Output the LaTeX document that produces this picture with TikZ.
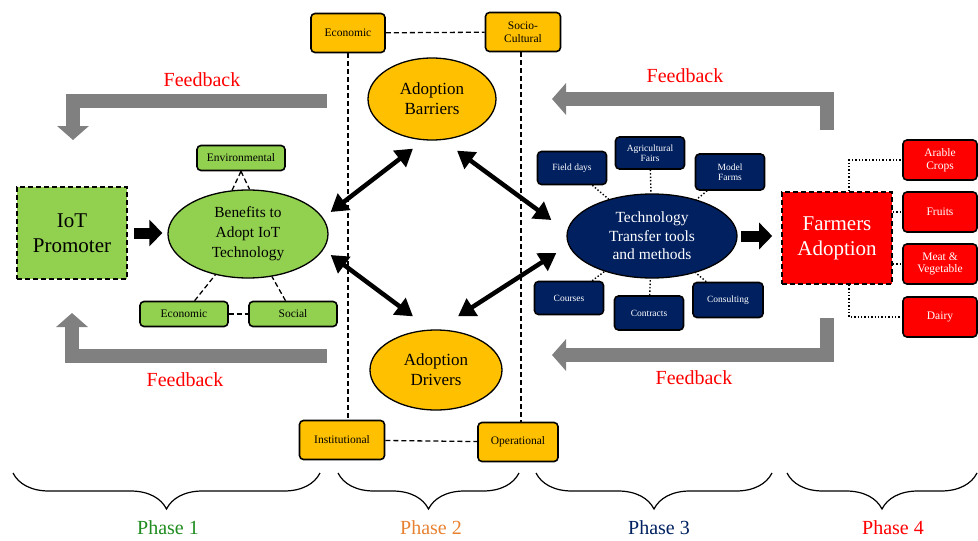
\documentclass[tikz,border=0pt]{standalone}
\usepackage{fontspec}
\setmainfont{Liberation Serif}
\usepackage{tikz}
\usetikzlibrary{arrows.meta, positioning, shapes.geometric, calc, decorations.pathreplacing}

\definecolor{iotgreen}{HTML}{92D050}
\definecolor{amber}{HTML}{FFC000}
\definecolor{navy}{HTML}{002060}
\definecolor{fbgray}{HTML}{808080}
\definecolor{phgreen}{RGB}{30,140,30}
\definecolor{phorange}{RGB}{232,130,50}

\tikzset{
    smallbox/.style={rectangle, rounded corners=4pt, draw, line width=1.6pt, align=center, inner sep=1pt, font=\fontsize{11.5}{12.5}\selectfont},
    gbox/.style={smallbox, fill=iotgreen, minimum width=88pt, minimum height=25pt},
    obox/.style={smallbox, fill=amber, minimum height=39pt},
    nbox/.style={smallbox, fill=navy, text=white, minimum width=69pt, minimum height=33pt, font=\fontsize{9.5}{10.5}\selectfont},
    rbox/.style={smallbox, fill=red, text=white, minimum width=74pt, minimum height=40pt},
    bubble/.style={ellipse, draw, line width=1.3pt, align=center, inner sep=0pt},
    mainbox/.style={rectangle, draw, line width=1.6pt, dash pattern=on 5pt off 3pt, align=center, minimum width=110pt, minimum height=92pt, font=\fontsize{21}{25}\selectfont},
    dashline/.style={line width=1.3pt, dash pattern=on 5pt off 3pt},
    dotline/.style={line width=1.4pt, dotted},
    fatarrow/.style={line width=11pt, -{Triangle[length=13pt, width=26pt]}},
    dblarrow/.style={line width=4.5pt, {Triangle[length=17pt, width=20pt]}-{Triangle[length=17pt, width=20pt]}},
    fbarrow/.style={draw=fbgray, line width=14pt, -{Triangle[length=14pt, width=31pt]}},
    fbtext/.style={text=red, font=\fontsize{20}{24}\selectfont},
    phbrace/.style={decorate, decoration={brace, mirror, amplitude=36pt}, line width=1.2pt},
    phtext/.style={font=\fontsize{20}{24}\selectfont}
}

\begin{document}
\begin{tikzpicture}[x=1pt, y=-1pt]
    \useasboundingbox (0,0) rectangle (978,541);

    % Phase 1
    \node[mainbox, fill=iotgreen] (iot) at (72,233) {IoT\\Promoter};
    \node[bubble, fill=iotgreen, minimum width=160pt, minimum height=88pt, font=\fontsize{15.4}{20}\selectfont]
        (benefits) at (248,234) {Benefits to\\Adopt IoT\\Technology};
    \node[gbox] (env) at (241,158) {Environmental};
    \node[gbox] (econ1) at (184,314) {Economic};
    \node[gbox] (social) at (293,314) {Social};

    \draw[dashline] (env.south) -- (benefits.110);
    \draw[dashline] (env.south) -- (benefits.88);
    \draw[dashline] (econ1) -- (benefits);
    \draw[dashline] (social) -- (benefits);
    \draw[dashline] (econ1) -- (social);
    \draw[fatarrow] ([xshift=6pt]iot.east) -- ([xshift=-5pt]iot.east -| benefits.west);

    % Phase 2
    \node[bubble, fill=amber, minimum width=128pt, minimum height=82pt, font=\fontsize{17}{20}\selectfont]
        (barriers) at (432,99) {Adoption\\Barriers};
    \node[bubble, fill=amber, minimum width=132pt, minimum height=80pt, font=\fontsize{17}{20}\selectfont]
        (drivers) at (436,370) {Adoption\\Drivers};
    \node[obox, minimum width=74pt] (econ2) at (348,33) {Economic};
    \node[obox, minimum width=75pt] (socio) at (523,32) {Socio-\\Cultural};
    \node[obox, minimum width=85pt] (inst) at (342,440) {Institutional};
    \node[obox, minimum width=80pt] (oper) at (518,442) {Operational};

    \draw[dashline] (econ2) -- (socio);
    \draw[dashline] (inst) -- (oper);
    \draw[dashline] (econ2.south) -- (econ2.south |- inst.north);
    \draw[dashline] ([xshift=-2pt]socio.south) -- ([xshift=-2pt]socio.south |- oper.north);

    % Phase 3
    \node[bubble, fill=navy, text=white, minimum width=170pt, minimum height=84pt, font=\fontsize{15.5}{18.5}\selectfont]
        (tech) at (652,236) {Technology\\Transfer tools\\and methods};
    \node[nbox] (fd) at (572,168) {Field days};
    \node[nbox, minimum height=32pt] (af) at (650,153) {Agricultural\\Fairs};
    \node[nbox, minimum height=36pt] (mf) at (730,172) {Model\\Farms};
    \node[nbox] (co) at (569,298) {Courses};
    \node[nbox, minimum height=34pt] (ct) at (649,313) {Contracts};
    \node[nbox, minimum height=35pt, minimum width=70pt] (cs) at (728,300) {Consulting};

    \foreach \n in {fd,af,mf,co,ct,cs}
        \draw[dotline] (\n) -- (tech);

    % links between the phases
    \draw[dblarrow] ([shift={(2,-22)}]benefits.east) -- ([shift={(-19,8)}]barriers.south);
    \draw[dblarrow] ([shift={(25,10)}]barriers.south) -- ([shift={(-15,-16)}]tech.west);
    \draw[dblarrow] ([shift={(2,21)}]benefits.east) -- ([shift={(-23,-13)}]drivers.north);
    \draw[dblarrow] ([shift={(22,-13)}]drivers.north) -- ([shift={(-10,17)}]tech.west);

    % Phase 4
    \node[mainbox, fill=red, text=white] (farmers) at (837,238) {Farmers\\Adoption};
    \node[rbox] (arable) at (940,160) {Arable\\Crops};
    \node[rbox] (fruits) at (940,212) {Fruits};
    \node[rbox] (meat) at (940,264) {Meat \&\\Vegetable};
    \node[rbox] (dairy) at (940,317) {Dairy};

    \draw[dotline] ([xshift=12pt]farmers.north) |- (arable);
    \draw[dotline] (farmers.east |- fruits) -- (fruits);
    \draw[dotline] (farmers.east |- meat) -- (meat);
    \draw[dotline] ([xshift=12pt]farmers.south) |- (dairy);
    \draw[fatarrow] ([xshift=3pt]tech.east) -- ([xshift=-9pt]tech.east -| farmers.west);

    % Feedback loops
    \coordinate (fbtl-a) at (327,101);
    \coordinate (fbtl-b) at (73,140);
    \coordinate (fbtr-a) at (827,130);
    \coordinate (fbtr-b) at (552,99);
    \coordinate (fbbl-a) at (327,356);
    \coordinate (fbbl-b) at (72,313);
    \coordinate (fbbr-a) at (827,318);
    \coordinate (fbbr-b) at (552,355);
    \draw[fbarrow] (fbtl-a) -| (fbtl-b);
    \draw[fbarrow] (fbtr-a) |- (fbtr-b);
    \draw[fbarrow] (fbbl-a) -| (fbbl-b);
    \draw[fbarrow] (fbbr-a) |- (fbbr-b);
    \node[fbtext] (fb1) at (202,80) {Feedback};
    \node[fbtext] (fb2) at (685,76) {Feedback};
    \node[fbtext] (fb3) at (185,380) {Feedback};
    \node[fbtext] (fb4) at (694,378) {Feedback};

    % Phases
    \draw[phbrace] (13,473) -- (320,473);
    \draw[phbrace] (338,473) -- (519,473);
    \draw[phbrace] (536,473) -- (772,473);
    \draw[phbrace] (787,473) -- (977,473);
    \node[phtext, text=phgreen] (ph1) at (168,528) {Phase 1};
    \node[phtext, text=phorange] (ph2) at (431,528) {Phase 2};
    \node[phtext, text=navy] (ph3) at (659,528) {Phase 3};
    \node[phtext, text=red] (ph4) at (893,528) {Phase 4};
\end{tikzpicture}
\end{document}
